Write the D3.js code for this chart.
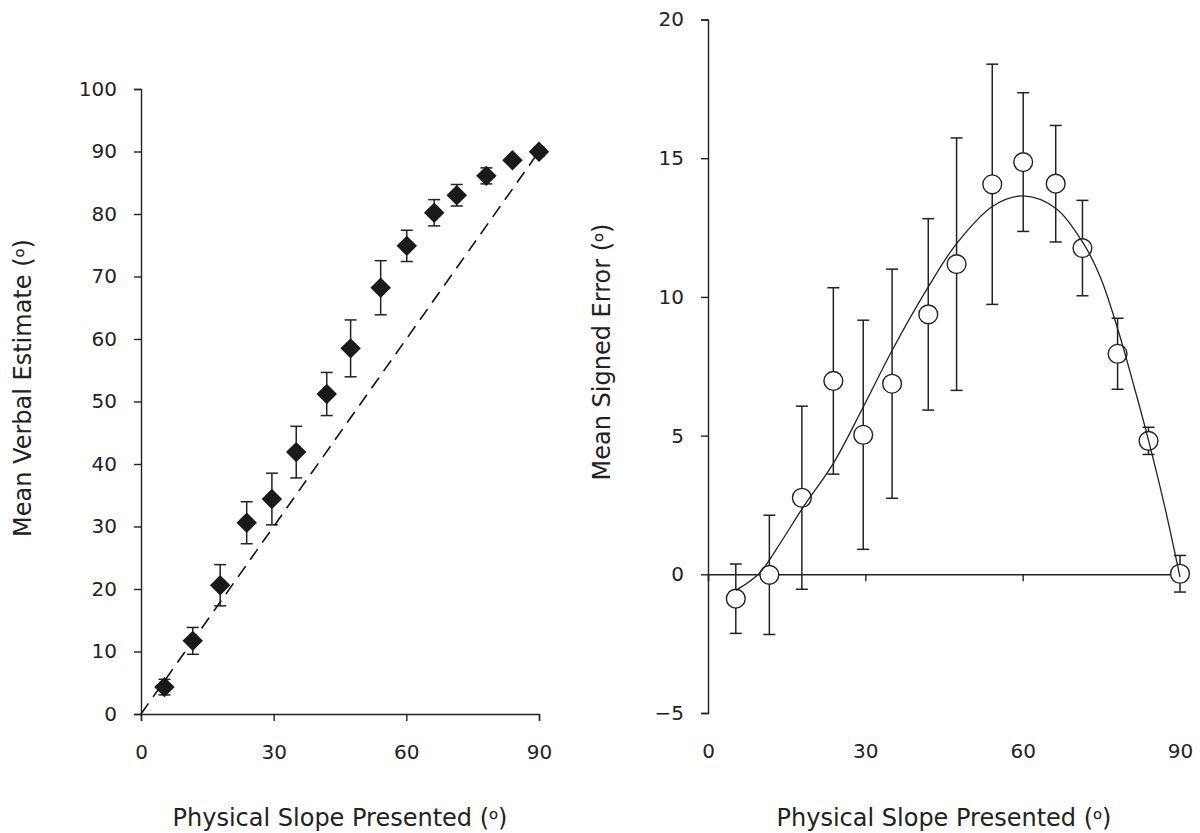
<!DOCTYPE html>
<html><head><meta charset="utf-8">
<script src="https://cdn.jsdelivr.net/npm/d3@7"></script>
<style>
body{margin:0;background:#fff;}
svg text{font-family:"DejaVu Sans",Verdana,sans-serif;fill:#222;font-size:20px;}
.ttl{font-size:24px;}
.ord{font-family:"Noto Sans",sans-serif;}
</style></head><body>
<svg id="chart" width="1200" height="833"></svg>
<script>
// ---- data ----
const slopes       = [5.3, 11.7, 17.9, 23.9, 29.6, 35.1, 42.0, 47.4, 54.2, 60.1, 66.3, 71.4, 78.1, 84.0, 90.0];
const verbalMeans  = [4.3, 11.7, 20.6, 30.6, 34.4, 41.9, 51.2, 58.5, 68.2, 74.9, 80.2, 83.0, 86.1, 88.6, 89.97];
const signedErrors = [-0.88, -0.02, 2.76, 6.97, 5.03, 6.87, 9.37, 11.18, 14.06, 14.86, 14.08, 11.76, 7.95, 4.81, 0.02];
const stdErrors    = [1.25, 2.15, 3.3, 3.36, 4.13, 4.13, 3.45, 4.55, 4.33, 2.5, 2.1, 1.72, 1.28, 0.49, 0.66];
const fitSlopes    = [5.3, 9.6, 13.7, 17.9, 23.9, 29.6, 35.1, 42.0, 47.4, 54.3, 60.1, 66.4, 71.6, 74.8, 78.2, 81.1, 84.0, 87.1, 90.0];
const fitErrors    = [-0.58, 0.0, 1.1, 2.35, 4.0, 6.03, 8.07, 10.36, 11.92, 13.27, 13.64, 13.18, 11.92, 10.72, 8.8, 6.87, 4.83, 2.43, -0.1];
const identity     = [0, 90];
const leftYTicks   = [0, 10, 20, 30, 40, 50, 60, 70, 80, 90, 100];
const rightYTicks  = [-5, 0, 5, 10, 15, 20];
const xTicks       = [0, 30, 60, 90];
const xTitle       = "Physical Slope Presented (";
const leftYTitle   = "Mean Verbal Estimate (";
const rightYTitle  = "Mean Signed Error (";
const degMark      = "º";

const svg = d3.select("#chart");
const ink = "#222";
const capW = 6;

function title(g, txt) {
  g.append("tspan").text(txt);
  g.append("tspan").attr("class", "ord").text(degMark);
  g.append("tspan").text(")");
}

// ---- left panel ----
const xL = d3.scaleLinear().domain([0, 90]).range([141, 539]);
const yL = d3.scaleLinear().domain([0, 100]).range([714, 89]);
const left = svg.append("g");

const yAxL = left.append("g").attr("transform", `translate(${xL(0)},0)`)
  .call(d3.axisLeft(yL).tickValues(leftYTicks).tickSize(7).tickPadding(17).tickFormat(d3.format("d")));
const xAxL = left.append("g").attr("transform", `translate(0,${yL(0)})`)
  .call(d3.axisBottom(xL).tickValues(xTicks).tickSize(7).tickPadding(24).tickFormat(d3.format("d")));
[yAxL, xAxL].forEach(a => {
  a.selectAll("path,line").attr("stroke", ink).attr("stroke-width", 1.4);
  a.selectAll("text").attr("font-size", 20).attr("font-family", null).attr("fill", ink);
});

left.append("path")
  .datum(identity)
  .attr("d", d3.line().x(d => xL(d)).y(d => yL(d)))
  .attr("fill", "none").attr("stroke", "#111").attr("stroke-width", 1.6)
  .attr("stroke-dasharray", "13,8");

const leftPts = slopes.map((s, i) => ({x: s, y: verbalMeans[i], e: stdErrors[i]}));
const ebL = left.append("g").attr("stroke", ink).attr("stroke-width", 1.5);
leftPts.forEach(p => {
  ebL.append("line").attr("x1", xL(p.x)).attr("x2", xL(p.x)).attr("y1", yL(p.y - p.e)).attr("y2", yL(p.y + p.e));
  ebL.append("line").attr("x1", xL(p.x) - capW).attr("x2", xL(p.x) + capW).attr("y1", yL(p.y + p.e)).attr("y2", yL(p.y + p.e));
  ebL.append("line").attr("x1", xL(p.x) - capW).attr("x2", xL(p.x) + capW).attr("y1", yL(p.y - p.e)).attr("y2", yL(p.y - p.e));
});
left.append("g").selectAll("path").data(leftPts).join("path")
  .attr("d", d3.symbol().type(d3.symbolSquare).size(210))
  .attr("transform", d => `translate(${xL(d.x)},${yL(d.y)}) rotate(45)`)
  .attr("fill", "#1a1a1a");

title(left.append("text").attr("class", "ttl").attr("x", (xL.range()[0] + xL.range()[1]) / 2).attr("y", 818)
  .attr("text-anchor", "middle").attr("dominant-baseline", "central"), xTitle);
title(left.append("text").attr("class", "ttl").attr("transform", `translate(23,388) rotate(-90)`)
  .attr("text-anchor", "middle").attr("dominant-baseline", "central"), leftYTitle);

// ---- right panel ----
const xR = d3.scaleLinear().domain([0, 90]).range([708, 1180]);
const yR = d3.scaleLinear().domain([-5, 20]).range([713, 19.5]);
const right = svg.append("g");

const yAxR = right.append("g").attr("transform", `translate(${xR(0)},0)`)
  .call(d3.axisLeft(yR).tickValues(rightYTicks).tickSize(7).tickPadding(17)
    .tickFormat(d => d < 0 ? "\u2212" + Math.abs(d) : d));
const zeroAx = right.append("g").attr("transform", `translate(0,${yR(0)})`)
  .call(d3.axisBottom(xR).tickValues(xTicks).tickSize(7).tickFormat(""));
const xLabR = right.append("g").attr("transform", `translate(0,${yR(-5)})`)
  .call(d3.axisBottom(xR).tickValues(xTicks).tickSize(7).tickPadding(24).tickFormat(d3.format("d")));
xLabR.select(".domain").remove();
xLabR.selectAll("line").remove();
[yAxR, zeroAx, xLabR].forEach(a => {
  a.selectAll("path,line").attr("stroke", ink).attr("stroke-width", 1.4);
  a.selectAll("text").attr("font-size", 20).attr("font-family", null).attr("fill", ink);
});

const rightPts = slopes.map((s, i) => ({x: s, y: signedErrors[i], e: stdErrors[i]}));
const ebR = right.append("g").attr("stroke", ink).attr("stroke-width", 1.5);
rightPts.forEach(p => {
  ebR.append("line").attr("x1", xR(p.x)).attr("x2", xR(p.x)).attr("y1", yR(p.y - p.e)).attr("y2", yR(p.y + p.e));
  ebR.append("line").attr("x1", xR(p.x) - capW).attr("x2", xR(p.x) + capW).attr("y1", yR(p.y + p.e)).attr("y2", yR(p.y + p.e));
  ebR.append("line").attr("x1", xR(p.x) - capW).attr("x2", xR(p.x) + capW).attr("y1", yR(p.y - p.e)).attr("y2", yR(p.y - p.e));
});
right.append("g").selectAll("circle").data(rightPts).join("circle")
  .attr("cx", d => xR(d.x)).attr("cy", d => yR(d.y)).attr("r", 9.4)
  .attr("fill", "#fff").attr("stroke", ink).attr("stroke-width", 1.4);

const fitPts = fitSlopes.map((s, i) => [s, fitErrors[i]]);
right.append("path").datum(fitPts)
  .attr("d", d3.line().x(d => xR(d[0])).y(d => yR(d[1])).curve(d3.curveCatmullRom.alpha(0.5)))
  .attr("fill", "none").attr("stroke", ink).attr("stroke-width", 1.3);

title(right.append("text").attr("class", "ttl").attr("x", (xR.range()[0] + xR.range()[1]) / 2).attr("y", 818)
  .attr("text-anchor", "middle").attr("dominant-baseline", "central"), xTitle);
title(right.append("text").attr("class", "ttl").attr("transform", `translate(602,352) rotate(-90)`)
  .attr("text-anchor", "middle").attr("dominant-baseline", "central"), rightYTitle);
</script>
</body></html>
